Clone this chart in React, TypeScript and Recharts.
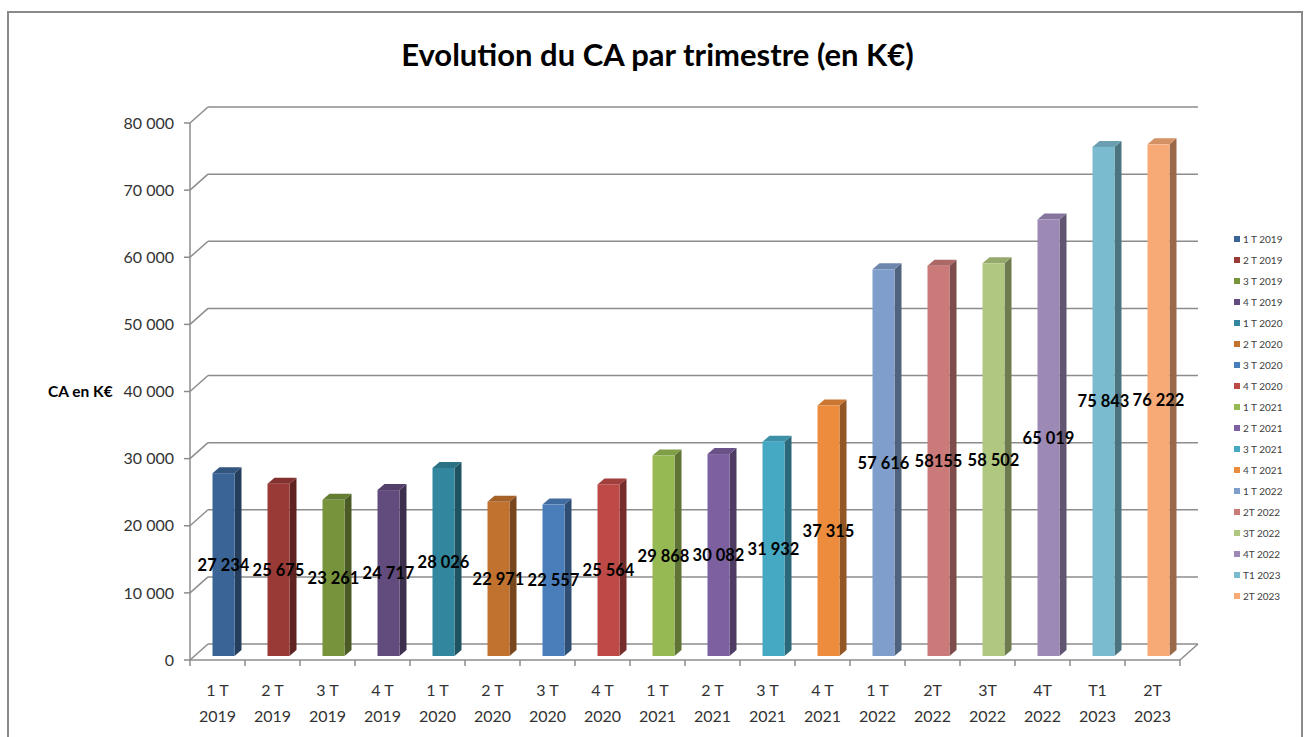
import { BarChart, Bar, XAxis, YAxis, CartesianGrid, LabelList, Legend } from "recharts";

const QUARTERS = ["1 T", "2 T", "3 T", "4 T", "1 T", "2 T", "3 T", "4 T", "1 T", "2 T", "3 T", "4 T", "1 T", "2T", "3T", "4T", "T1", "2T"];
const YEARS = ["2019", "2019", "2019", "2019", "2020", "2020", "2020", "2020", "2021", "2021", "2021", "2021", "2022", "2022", "2022", "2022", "2023", "2023"];
const CA = [27234, 25675, 23261, 24717, 28026, 22971, 22557, 25564, 29868, 30082, 31932, 37315, 57616, 58155, 58502, 65019, 75843, 76222];
// labels as printed on the chart (one is written without a space)
const CA_LABELS = ["27 234", "25 675", "23 261", "24 717", "28 026", "22 971", "22 557", "25 564", "29 868", "30 082", "31 932", "37 315", "57 616", "58155", "58 502", "65 019", "75 843", "76 222"];
const Y_TICKS = [0, 10000, 20000, 30000, 40000, 50000, 60000, 70000, 80000];

const COLORS = [
  "#3b6496", "#9a3a37", "#77933c", "#624b7d", "#32869d", "#c2722f",
  "#4a7ebb", "#bd4a47", "#97b954", "#7d60a0", "#46a9c4", "#ec8c3c",
  "#7f9ecb", "#c97a79", "#b0c77f", "#9c89b6", "#7bbbcf", "#f8aa76",
];

const data = QUARTERS.map((q, i) => ({
  name: `${q}|${YEARS[i]}`,
  ca: CA[i],
  label: CA_LABELS[i],
}));

const FONT = "Lato, 'Noto Sans', sans-serif";
const LINE = "#8c8c8c";
const PLOT_LEFT = 190;
const PLOT_RIGHT = 1180;
const PLOT_BOTTOM = 660;
const DX = 18; // back wall offset
const DY = -16;
const BAR_DX = 5.5; // bars sit mid-depth
const BAR_DY = -4;
const SIDE_X = 7;
const SIDE_Y = -6;

function shade(hex: string, f: number) {
  const n = parseInt(hex.slice(1), 16);
  const r = Math.round(((n >> 16) & 255) * f);
  const g = Math.round(((n >> 8) & 255) * f);
  const b = Math.round((n & 255) * f);
  return `rgb(${Math.min(r, 255)},${Math.min(g, 255)},${Math.min(b, 255)})`;
}

const fmt = (v: number) => String(v).replace(/\B(?=(\d{3})+(?!\d))/g, " ");

function Bar3D(props: any) {
  const { x, y, width, height, index } = props;
  const c = COLORS[index];
  const fx = x + BAR_DX;
  const fy = y + BAR_DY;
  const h = height;
  return (
    <g>
      <polygon
        points={`${fx + width},${fy} ${fx + width + SIDE_X},${fy + SIDE_Y} ${fx + width + SIDE_X},${fy + h + SIDE_Y} ${fx + width},${fy + h}`}
        fill={shade(c, 0.62)}
      />
      <polygon
        points={`${fx},${fy} ${fx + SIDE_X},${fy + SIDE_Y} ${fx + width + SIDE_X},${fy + SIDE_Y} ${fx + width},${fy}`}
        fill={shade(c, 0.85)}
      />
      <rect x={fx} y={fy} width={width} height={h} fill={c} />
    </g>
  );
}

function GridLine(props: any) {
  const { x1, x2, y1 } = props;
  const isFloor = Math.abs(y1 - PLOT_BOTTOM) < 1;
  const n = QUARTERS.length;
  const step = (x2 - x1) / n;
  return (
    <g stroke={LINE} strokeWidth={1.5} fill="none">
      <line x1={x1} y1={y1} x2={x1 + DX} y2={y1 + DY} />
      <line x1={x1 + DX} y1={y1 + DY} x2={x2 + DX} y2={y1 + DY} />
      {isFloor && (
        <>
          <line x1={x1} y1={y1} x2={x2} y2={y1} />
          <line x1={x2} y1={y1} x2={x2 + DX} y2={y1 + DY} />
          {Array.from({ length: n + 1 }, (_, i) => (
            <line key={i} x1={x1 + i * step} y1={y1} x2={x1 + i * step} y2={y1 + 6} />
          ))}
        </>
      )}
    </g>
  );
}

function XTick(props: any) {
  const { x, payload } = props;
  const [q, yr] = String(payload.value).split("|");
  return (
    <g>
      <text x={x} y={696} textAnchor="middle" fill="#333" fontSize={16} fontFamily={FONT}>
        {q}
      </text>
      <text x={x} y={722} textAnchor="middle" fill="#333" fontSize={16} fontFamily={FONT}>
        {yr}
      </text>
    </g>
  );
}

function ValueLabel(props: any) {
  const { x, y, width, height, value } = props;
  return (
    <text
      x={x + BAR_DX + width / 2}
      y={y + BAR_DY + height / 2}
      textAnchor="middle"
      dominantBaseline="central"
      fontSize={16.5}
      fontWeight={700}
      fontFamily={FONT}
      fill="#000"
    >
      {value}
    </text>
  );
}

function LegendBox() {
  return (
    <div style={{ fontFamily: FONT, fontSize: 10, color: "#404040" }}>
      {QUARTERS.map((q, i) => (
        <div key={i} style={{ height: 21, display: "flex", alignItems: "center", whiteSpace: "nowrap" }}>
          <span style={{ width: 6, height: 6, background: COLORS[i], marginRight: 3, display: "inline-block" }} />
          {`${q} ${YEARS[i]}`}
        </div>
      ))}
    </div>
  );
}

export default function App() {
  return (
    <div style={{ position: "absolute", left: 0, top: 0, width: 1315, height: 737, background: "#fff", overflow: "hidden" }}>
      <div
        style={{
          position: "absolute",
          left: 7,
          top: 11,
          width: 1296,
          height: 760,
          border: "2px solid #8a8a8a",
          boxSizing: "border-box",
        }}
      />
      <div
        style={{
          position: "absolute",
          left: 0,
          width: 1315,
          top: 35,
          textAlign: "center",
          fontFamily: FONT,
          fontWeight: 700,
          fontSize: 31,
          color: "#000",
        }}
      >
        Evolution du CA par trimestre (en K€)
      </div>
      <div style={{ position: "absolute", left: 0, top: 0 }}>
        <BarChart
          width={1315}
          height={737}
          data={data}
          margin={{ top: 123, right: 1315 - PLOT_RIGHT, bottom: 0, left: PLOT_LEFT - 100 }}
          barSize={22}
        >
          <CartesianGrid vertical={false} horizontal={(p: any) => <GridLine key={p.key} {...p} />} />
          <XAxis dataKey="name" height={77} axisLine={false} tickLine={false} tick={<XTick />} interval={0} />
          <YAxis
            width={100}
            domain={[0, 80000]}
            ticks={Y_TICKS}
            tickFormatter={fmt}
            tickSize={6}
            tickMargin={10}
            axisLine={{ stroke: LINE, strokeWidth: 1.5 }}
            tickLine={{ stroke: LINE, strokeWidth: 1.5 }}
            tick={{ fill: "#333", fontSize: 16, fontFamily: FONT }}
            label={{
              value: "CA en K€",
              position: "insideLeft",
              offset: -42,
              angle: 0,
              fill: "#000",
              fontSize: 15.5,
              fontWeight: 700,
              fontFamily: FONT,
            }}
          />
          <Legend
            layout="vertical"
            align="center"
            verticalAlign="middle"
            content={() => <LegendBox />}
            wrapperStyle={{ left: 1234, top: 228, width: 70 }}
          />
          <Bar dataKey="ca" shape={<Bar3D />} isAnimationActive={false}>
            <LabelList dataKey="label" content={<ValueLabel />} />
          </Bar>
        </BarChart>
      </div>
    </div>
  );
}
